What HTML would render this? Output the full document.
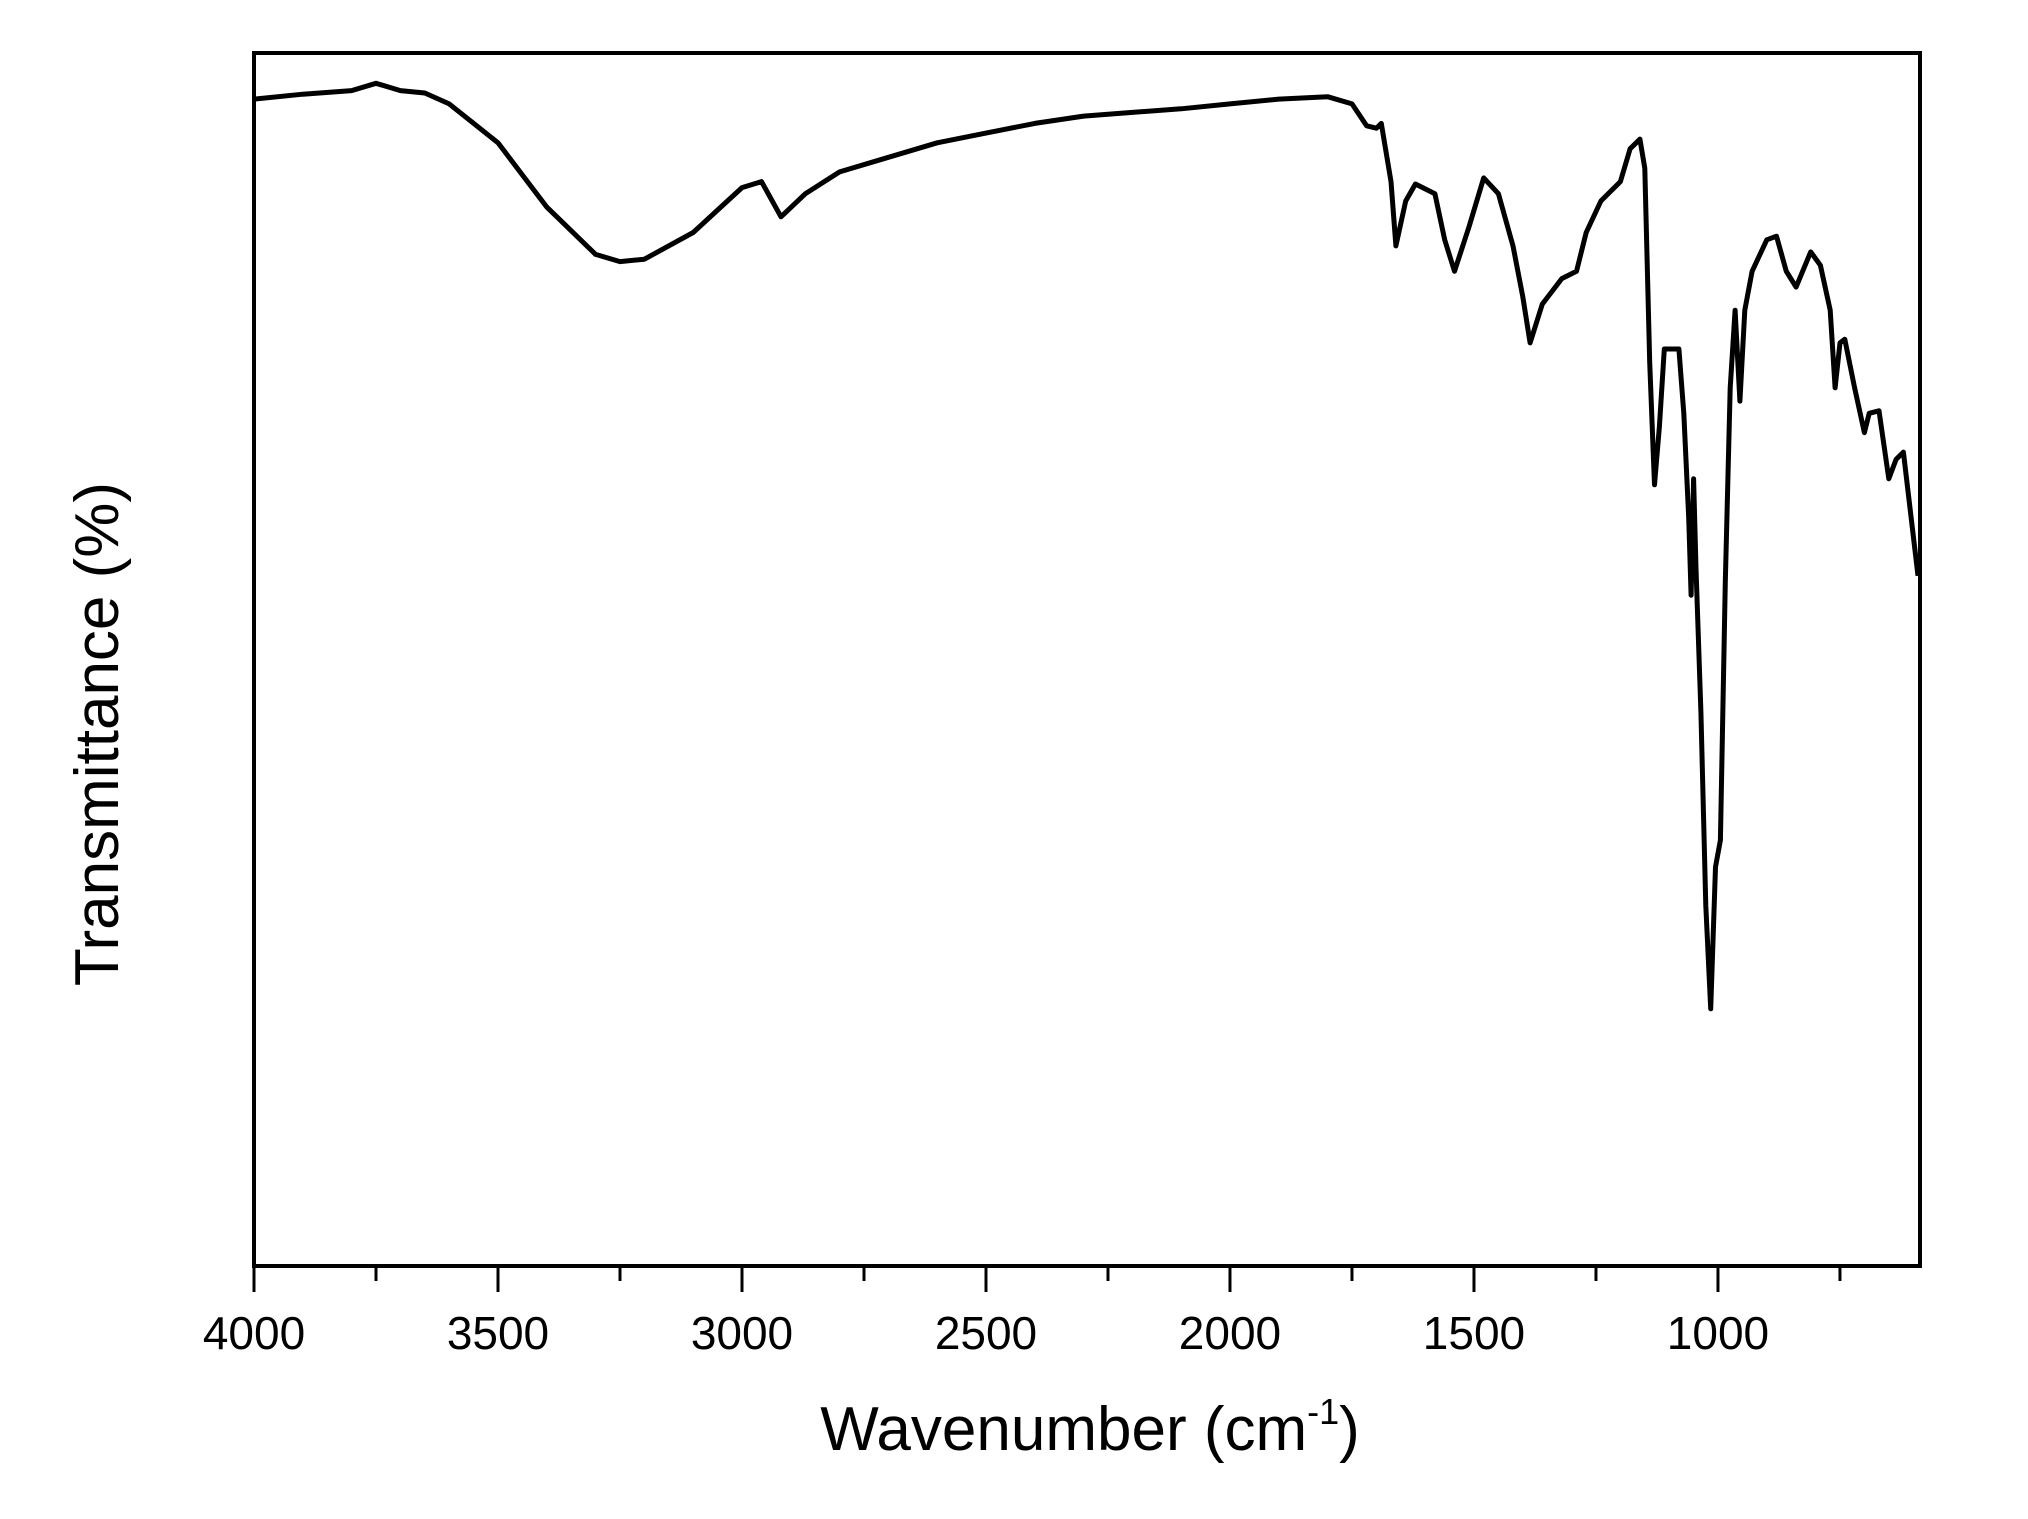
<!DOCTYPE html>
<html><head><meta charset="utf-8"><style>
html,body{margin:0;padding:0;background:#fff;}
svg{display:block;font-family:"Liberation Sans",Arial,sans-serif;}
</style></head><body>
<svg id="chart" width="2028" height="1519" viewBox="0 0 2028 1519">
<rect x="254" y="53" width="1666" height="1213" fill="none" stroke="#000" stroke-width="4"/>
<g id="xticks"></g>
<path id="spectrum" fill="none" stroke="#000" stroke-width="5" stroke-linejoin="round"/>
<text x="1090" y="1450" font-size="62" text-anchor="middle">Wavenumber (cm<tspan font-size="36" dy="-26">-1</tspan><tspan dy="26">)</tspan></text>
<text x="0" y="0" font-size="62" text-anchor="middle" transform="translate(118,734) rotate(-90)">Transmittance (%)</text>
</svg>
<script>
const wavenumbers=[4000,3900,3800,3750,3700,3650,3600,3500,3400,3300,3250,3200,3100,3000,2960,2920,2870,2800,2700,2600,2500,2400,2300,2200,2100,2000,1900,1800,1750,1720,1700,1690,1670,1660,1640,1620,1580,1560,1540,1510,1480,1450,1420,1400,1385,1360,1320,1290,1270,1240,1200,1180,1160,1150,1140,1130,1120,1110,1080,1070,1060,1055,1050,1045,1035,1025,1015,1005,995,985,975,965,955,945,930,900,880,860,840,810,790,770,760,750,740,720,700,690,670,650,635,620,590];
const transmittance=[96.2,96.6,96.9,97.5,96.9,96.7,95.8,92.6,87.3,83.4,82.8,83.0,85.2,88.9,89.4,86.5,88.4,90.2,91.4,92.6,93.4,94.2,94.8,95.1,95.4,95.8,96.2,96.4,95.8,94.0,93.8,94.2,89.4,84.1,87.8,89.2,88.4,84.6,82.0,85.7,89.7,88.4,84.1,79.9,76.1,79.3,81.4,82.0,85.2,87.8,89.4,92.1,92.9,90.5,74.5,64.4,69.2,75.6,75.6,70.3,61.7,55.3,64.9,57.5,45.7,29.7,21.2,32.9,35.1,56.4,72.4,78.8,71.3,78.8,82.0,84.6,84.9,82.0,80.7,83.6,82.5,78.8,72.4,76.1,76.4,72.4,68.7,70.3,70.5,64.9,66.5,67.1,56.9];
const majorTicks=[4000,3500,3000,2500,2000,1500,1000];
const minorTicks=[3750,3250,2750,2250,1750,1250,750];
const tickLabels=["4000","3500","3000","2500","2000","1500","1000"];
const X0=254,X1=1920,Y0=1266,Y1=53,WMAX=4000,WMIN=586;
function xs(w){return X0+(WMAX-w)/(WMAX-WMIN)*(X1-X0);}
function ys(t){return Y0-(t/100)*(Y0-Y1);}
const ns="http://www.w3.org/2000/svg";
const g=document.getElementById('xticks');
majorTicks.forEach((w,i)=>{
  const l=document.createElementNS(ns,'line');
  
  
  l.setAttribute('x1',xs(w));l.setAttribute('x2',xs(w));l.setAttribute('y1',Y0);l.setAttribute('y2',Y0+26);
  l.setAttribute('stroke','#000');l.setAttribute('stroke-width','3');g.appendChild(l);
  const t=document.createElementNS(ns,'text');
  
  
  t.setAttribute('x',xs(w));t.setAttribute('y',1349);t.setAttribute('font-size','46');t.setAttribute('text-anchor','middle');
  t.textContent=tickLabels[i];g.appendChild(t);
});
minorTicks.forEach(w=>{
  const l=document.createElementNS(ns,'line');
  
  
  l.setAttribute('x1',xs(w));l.setAttribute('x2',xs(w));l.setAttribute('y1',Y0);l.setAttribute('y2',Y0+15);
  l.setAttribute('stroke','#000');l.setAttribute('stroke-width','3');g.appendChild(l);
});
let d='';
wavenumbers.forEach((w,i)=>{d+=(i?'L':'M')+xs(w).toFixed(1)+','+ys(transmittance[i]).toFixed(1);});
document.getElementById('spectrum').setAttribute('d',d);
</script>
</body></html>
